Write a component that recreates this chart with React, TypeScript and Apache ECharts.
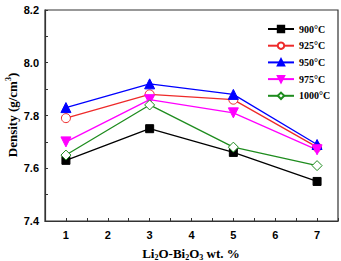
import React, { useEffect, useRef } from "react";
import * as echarts from "echarts";

const contents = [1, 3, 5, 7];
const temps = ["900°C", "925°C", "950°C", "975°C", "1000°C"];
const d900 = [7.63, 7.75, 7.66, 7.55];
const d925 = [7.79, 7.88, 7.86, 7.68];
const d950 = [7.83, 7.92, 7.88, 7.69];
const d975 = [7.70, 7.86, 7.81, 7.67];
const d1000 = [7.65, 7.84, 7.68, 7.61];
const xTicks = [1, 2, 3, 4, 5, 6, 7];
const yTicks = [7.4, 7.6, 7.8, 8.0, 8.2];

const serif = "'Liberation Serif', 'Times New Roman', serif";
const sans = "'Liberation Sans', Arial, sans-serif";

export default function App() {
  const ref = useRef<HTMLDivElement>(null);
  useEffect(() => {
    document.body.style.margin = "0";
    const chart = echarts.init(ref.current!, null, { renderer: "svg" });
    const styles = [
      { data: d900, color: "#000000", symbol: "rect", size: 8, fill: "#000000" },
      { data: d925, color: "#ee2a2a", symbol: "circle", size: 9, fill: "#ffffff" },
      { data: d950, color: "#0000ff", symbol: "triangle", size: 10, fill: "#0000ff" },
      { data: d975, color: "#ff00ff", symbol: "path://M0,0 L10,0 L5,9 Z", size: 10, fill: "#ff00ff" },
      { data: d1000, color: "#1e8c1e", symbol: "diamond", size: 10, fill: "#ffffff" },
    ];
    chart.setOption({
      animation: false,
      grid: { left: 45, top: 10, right: 3, bottom: 40 },
      legend: {
        orient: "vertical",
        left: 267,
        top: 23,
        itemWidth: 26,
        itemHeight: 8,
        itemGap: 4.7,
        padding: 0,
        data: temps,
        textStyle: {
          fontFamily: serif,
          fontWeight: "bold",
          fontSize: 10,
          lineHeight: 12,
          color: "#000",
        },
      },
      xAxis: {
        type: "value",
        min: 0.5,
        max: 7.5,
        interval: 0.5,
        axisLine: { lineStyle: { color: "#333", width: 1.2 } },
        axisTick: { inside: true, length: 3, lineStyle: { color: "#333" } },
        axisLabel: {
          fontFamily: sans,
          fontWeight: "bold",
          fontSize: 11,
          color: "#000",
          margin: 8,
          formatter: (v: number) => (xTicks.includes(v) ? String(v) : ""),
        },
        splitLine: { show: false },
      },
      yAxis: {
        type: "value",
        min: 7.4,
        max: 8.2,
        interval: 0.1,
        axisLine: { show: true, lineStyle: { color: "#333", width: 1.2 } },
        axisTick: { show: true, inside: true, length: 3, lineStyle: { color: "#333" } },
        axisLabel: {
          fontFamily: sans,
          fontWeight: "bold",
          fontSize: 11,
          color: "#000",
          margin: 6,
          formatter: (v: number) => {
            const r = Math.round(v * 10) / 10;
            return yTicks.some((t) => Math.abs(t - r) < 1e-6) ? r.toFixed(1) : "";
          },
        },
        splitLine: { show: false },
      },
      graphic: [
        {
          type: "rect",
          shape: { x: 45, y: 10, width: 293, height: 211 },
          style: { fill: "none", stroke: "#333", lineWidth: 1.2 },
          silent: true,
        },
        {
          type: "text",
          x: 12,
          y: 115,
          rotation: Math.PI / 2,
          style: {
            text: "{a|Density (g/cm}{p|3}{a|)}",
            align: "center",
            verticalAlign: "middle",
            rich: {
              a: { fontFamily: serif, fontWeight: "bold", fontSize: 13, fill: "#000" },
              p: { fontFamily: serif, fontWeight: "bold", fontSize: 8, fill: "#000", padding: [0, 0, 8, 0] },
            },
          },
        },
        {
          type: "text",
          x: 191,
          y: 253,
          style: {
            text: "{a|Li}{s|2}{a|O-Bi}{s|2}{a|O}{s|3}{a| wt. %}",
            align: "center",
            verticalAlign: "middle",
            rich: {
              a: { fontFamily: serif, fontWeight: "bold", fontSize: 13, fill: "#000" },
              s: { fontFamily: serif, fontWeight: "bold", fontSize: 8, fill: "#000", padding: [8, 0, 0, 0] },
            },
          },
        },
      ],
      series: styles.map((s, i) => ({
        name: temps[i],
        type: "line",
        data: contents.map((c, j) => [c, s.data[j]]),
        symbol: s.symbol,
        symbolSize: s.size,
        lineStyle: { color: s.color, width: 1.3 },
        itemStyle: { color: s.fill, borderColor: s.color, borderWidth: 1 },
        color: s.color,
      })),
    });
    return () => chart.dispose();
  }, []);
  return <div ref={ref} style={{ width: 341, height: 261 }} />;
}
